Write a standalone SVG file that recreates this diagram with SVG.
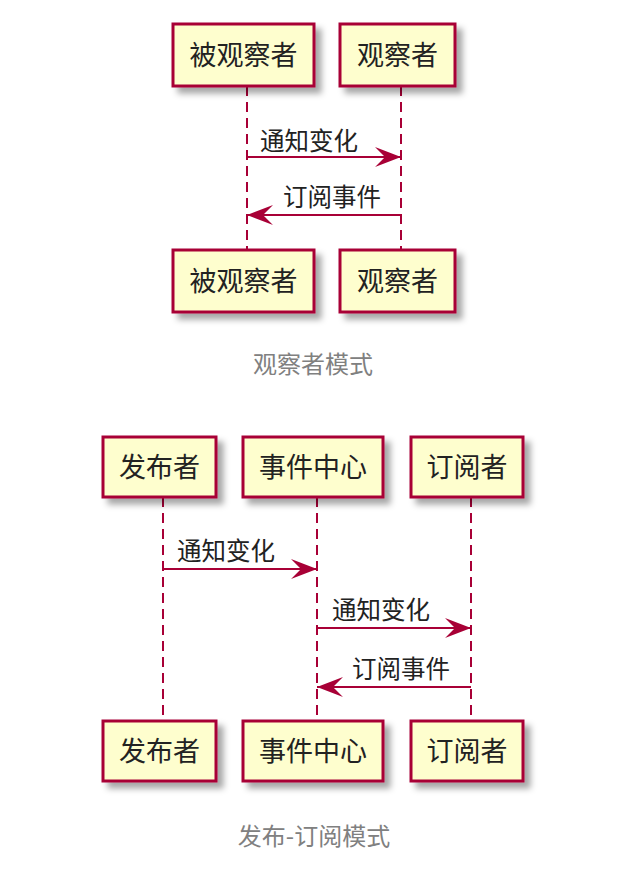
<svg xmlns="http://www.w3.org/2000/svg" width="632" height="890" viewBox="0 0 632 890">
<defs>
<filter id="sh" x="-20%" y="-20%" width="150%" height="160%">
<feDropShadow dx="6" dy="6" stdDeviation="3" flood-color="#000" flood-opacity="0.35"/>
</filter>
<marker id="ah" viewBox="0 0 26 20" refX="26" refY="10" markerWidth="26" markerHeight="20" markerUnits="userSpaceOnUse" orient="auto">
<path d="M0,0 L26,10 L0,20 L10,10 Z" fill="#A80036"/>
</marker>
</defs>
<style>
.box{fill:#FEFECE;stroke:#A80036;stroke-width:3;filter:url(#sh)}
.bt{font-family:"Noto Sans CJK SC","Noto Sans",sans-serif;font-size:27px;fill:#222;text-anchor:middle}
.mt{font-family:"Noto Sans CJK SC","Noto Sans",sans-serif;font-size:24.5px;fill:#222}
.cap{font-family:"Noto Sans CJK SC","Noto Sans",sans-serif;font-size:24px;fill:#808080;text-anchor:middle}
.life{stroke:#A80036;stroke-width:2;stroke-dasharray:10,6;fill:none}
.msg{stroke:#A80036;stroke-width:2;fill:none;marker-end:url(#ah)}
</style>
<rect width="632" height="890" fill="#fff"/>
<g id="connectors">
<line class="life" x1="247" y1="86" x2="247" y2="250"/>
<line class="life" x1="401" y1="86" x2="401" y2="250"/>
<line class="msg" x1="247" y1="157" x2="401" y2="157"/>
<line class="msg" x1="401" y1="215" x2="247" y2="215"/>
<line class="life" x1="163" y1="497" x2="163" y2="721"/>
<line class="life" x1="317" y1="497" x2="317" y2="721"/>
<line class="life" x1="471" y1="497" x2="471" y2="721"/>
<line class="msg" x1="163" y1="569" x2="317" y2="569"/>
<line class="msg" x1="317" y1="628" x2="471" y2="628"/>
<line class="msg" x1="471" y1="687" x2="317" y2="687"/>
</g>
<g id="labels">
<text class="mt" x="260" y="150">通知变化</text>
<text class="mt" x="283" y="206">订阅事件</text>
<text class="mt" x="177" y="560">通知变化</text>
<text class="mt" x="332" y="619">通知变化</text>
<text class="mt" x="352" y="678">订阅事件</text>
</g>
<g id="observed-top"><rect class="box" x="173" y="24" width="141" height="62"/><text class="bt" x="243.5" y="65">被观察者</text></g>
<g id="observer-top"><rect class="box" x="340" y="24" width="115" height="62"/><text class="bt" x="397.5" y="65">观察者</text></g>
<g id="observed-bottom"><rect class="box" x="173" y="250" width="141" height="62"/><text class="bt" x="243.5" y="291">被观察者</text></g>
<g id="observer-bottom"><rect class="box" x="340" y="250" width="115" height="62"/><text class="bt" x="397.5" y="291">观察者</text></g>
<text id="caption1" class="cap" x="313" y="373">观察者模式</text>
<g id="publisher-top"><rect class="box" x="103" y="437" width="113" height="60"/><text class="bt" x="159.5" y="477">发布者</text></g>
<g id="center-top"><rect class="box" x="243" y="437" width="140" height="60"/><text class="bt" x="313" y="477">事件中心</text></g>
<g id="subscriber-top"><rect class="box" x="411" y="437" width="112" height="60"/><text class="bt" x="467" y="477">订阅者</text></g>
<g id="publisher-bottom"><rect class="box" x="103" y="721" width="113" height="60"/><text class="bt" x="159.5" y="761">发布者</text></g>
<g id="center-bottom"><rect class="box" x="243" y="721" width="140" height="60"/><text class="bt" x="313" y="761">事件中心</text></g>
<g id="subscriber-bottom"><rect class="box" x="411" y="721" width="112" height="60"/><text class="bt" x="467" y="761">订阅者</text></g>
<text id="caption2" class="cap" x="314" y="845">发布-订阅模式</text>
</svg>
